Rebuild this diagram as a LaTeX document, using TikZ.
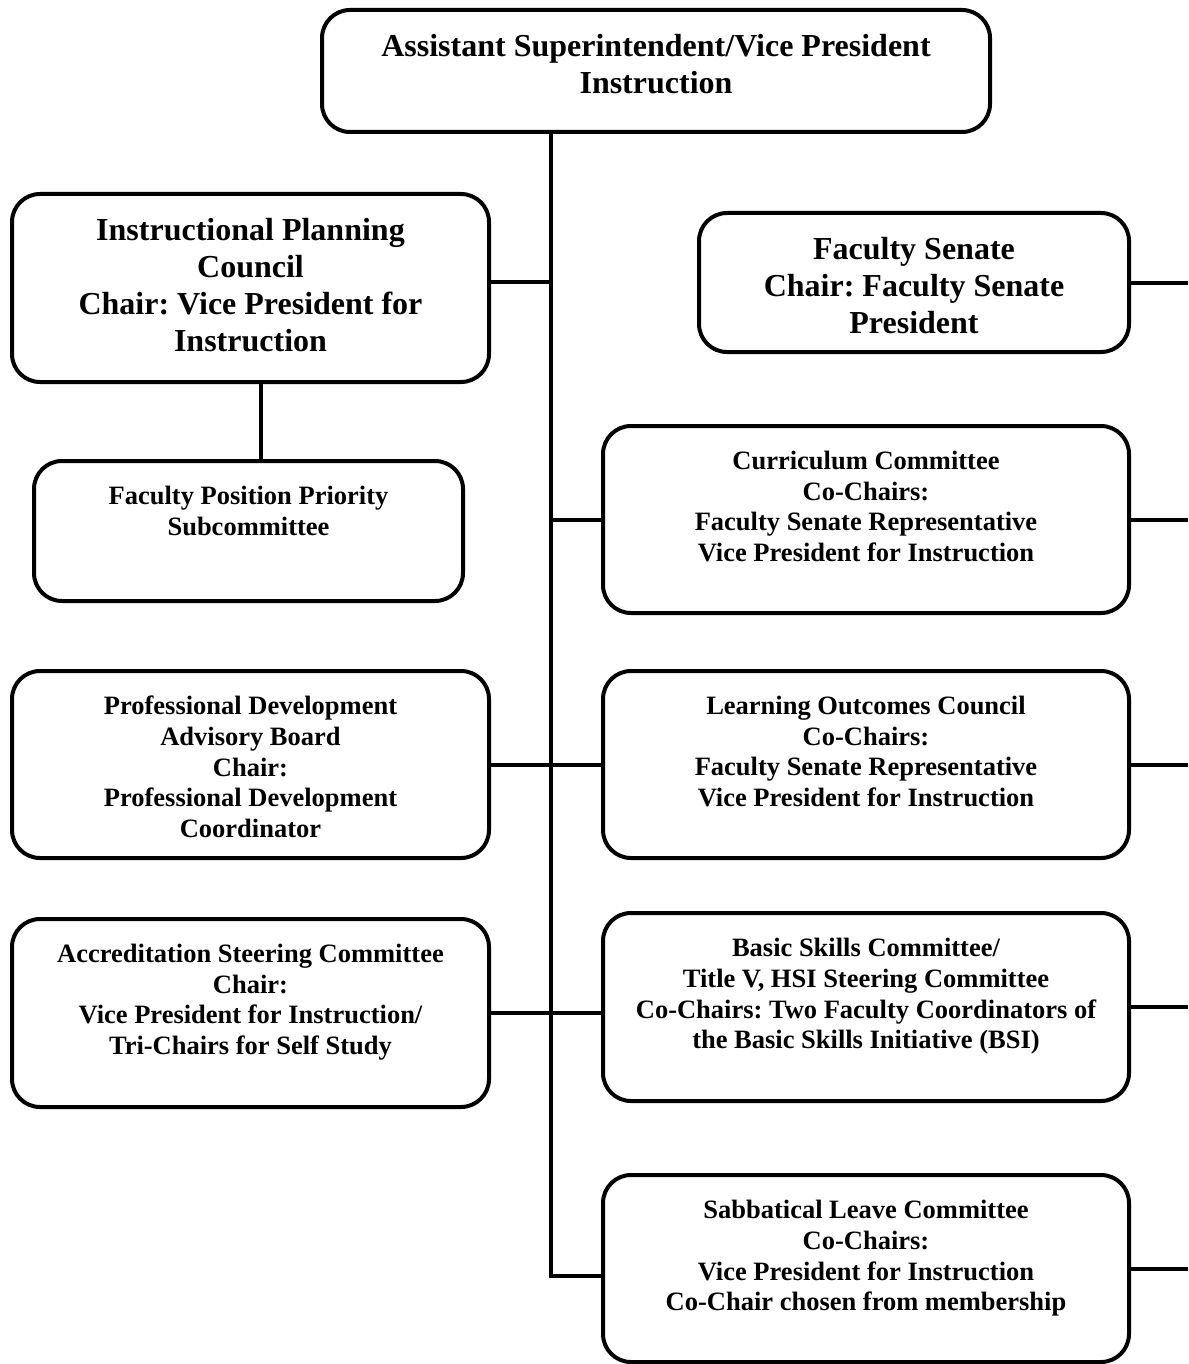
\documentclass[tikz,border=0pt]{standalone}
\usepackage{fontspec}
\setmainfont{Liberation Serif}
\usepackage{tikz}
\frenchspacing
\tikzset{
    %Define style for boxes
    orgbox/.style={
           rectangle,
           rounded corners=28pt,
           draw=black, line width=4pt,
           outer sep=0pt},
    %Define style for box texts
    boxtext/.style={
           anchor=north,
           yshift=-25pt,
           inner sep=0pt,
           align=center,
           font=\fontsize{26.5pt}{30.7pt}\selectfont\bfseries},
    bigtext/.style={
           boxtext,
           yshift=1pt,
           font=\fontsize{32pt}{37pt}\selectfont\bfseries},
    % Define line style
    link/.style={
           line width=4pt}
}
\begin{document}
\begin{tikzpicture}[x=1pt,y=-1pt]
\useasboundingbox (0,0) rectangle (1188,1364);
\coordinate (spine) at (551,0);
\coordinate (rim) at (1188,0);
% boxes
\node[orgbox, minimum width=668pt, minimum height=122pt,
  label={[bigtext]north:{Assistant Superintendent/Vice President\\Instruction}}] (vp) at (656,71) {};
\node[orgbox, minimum width=477pt, minimum height=188pt,
  label={[bigtext]north:{Instructional Planning\\Council\\Chair: Vice President for\\Instruction}}] (ipc) at (250.5,288) {};
\node[orgbox, minimum width=429pt, minimum height=140pt,
  label={[boxtext]north:{Faculty Position Priority\\Subcommittee}}] (fpp) at (248.5,531) {};
\node[orgbox, minimum width=430pt, minimum height=139pt,
  label={[bigtext]north:{Faculty Senate\\Chair: Faculty Senate\\President}}] (fs) at (914,282.5) {};
\node[orgbox, minimum width=526pt, minimum height=187pt,
  label={[boxtext]north:{Curriculum Committee\\Co-Chairs:\\Faculty Senate Representative\\Vice President for Instruction}}] (curr) at (866,519.5) {};
\node[orgbox, minimum width=477pt, minimum height=187pt,
  label={[boxtext]north:{Professional Development\\Advisory Board\\Chair:\\Professional Development\\Coordinator}}] (pdab) at (250.5,764.5) {};
\node[orgbox, minimum width=526pt, minimum height=187pt,
  label={[boxtext]north:{Learning Outcomes Council\\Co-Chairs:\\Faculty Senate Representative\\Vice President for Instruction}}] (loc) at (866,764.5) {};
\node[orgbox, minimum width=477pt, minimum height=188pt,
  label={[boxtext]north:{Accreditation Steering Committee\\Chair:\\Vice President for Instruction/\\Tri-Chairs for Self Study}}] (asc) at (250.5,1013) {};
\node[orgbox, minimum width=526pt, minimum height=188pt,
  label={[boxtext]north:{Basic Skills Committee/\\Title V, HSI Steering Committee\\Co-Chairs: Two Faculty Coordinators of\\the Basic Skills Initiative (BSI)}}] (bs) at (866,1007) {};
\node[orgbox, minimum width=526pt, minimum height=187pt,
  label={[boxtext]north:{Sabbatical Leave Committee\\Co-Chairs:\\Vice President for Instruction\\Co-Chair chosen from membership}}] (sab) at (866,1268.5) {};
% connectors
\draw[link] (vp.south -| spine) |- ([yshift=-7pt]sab.west);
\draw[link] ([yshift=6pt]ipc.east) -- ([yshift=6pt]ipc.east -| spine);
\draw[link] ([xshift=10pt]ipc.south) -- ([xshift=10pt]ipc.south |- fpp.north);
\draw[link] (curr.west) -- (curr.west -| spine);
\draw[link] (pdab.east) -- (loc.west);
\draw[link] (asc.east) -- (asc.east -| bs.west);
\foreach \b in {fs,curr,loc,bs,sab}
  \draw[link] (\b.east) -- (\b.east -| rim);
\end{tikzpicture}
\end{document}
